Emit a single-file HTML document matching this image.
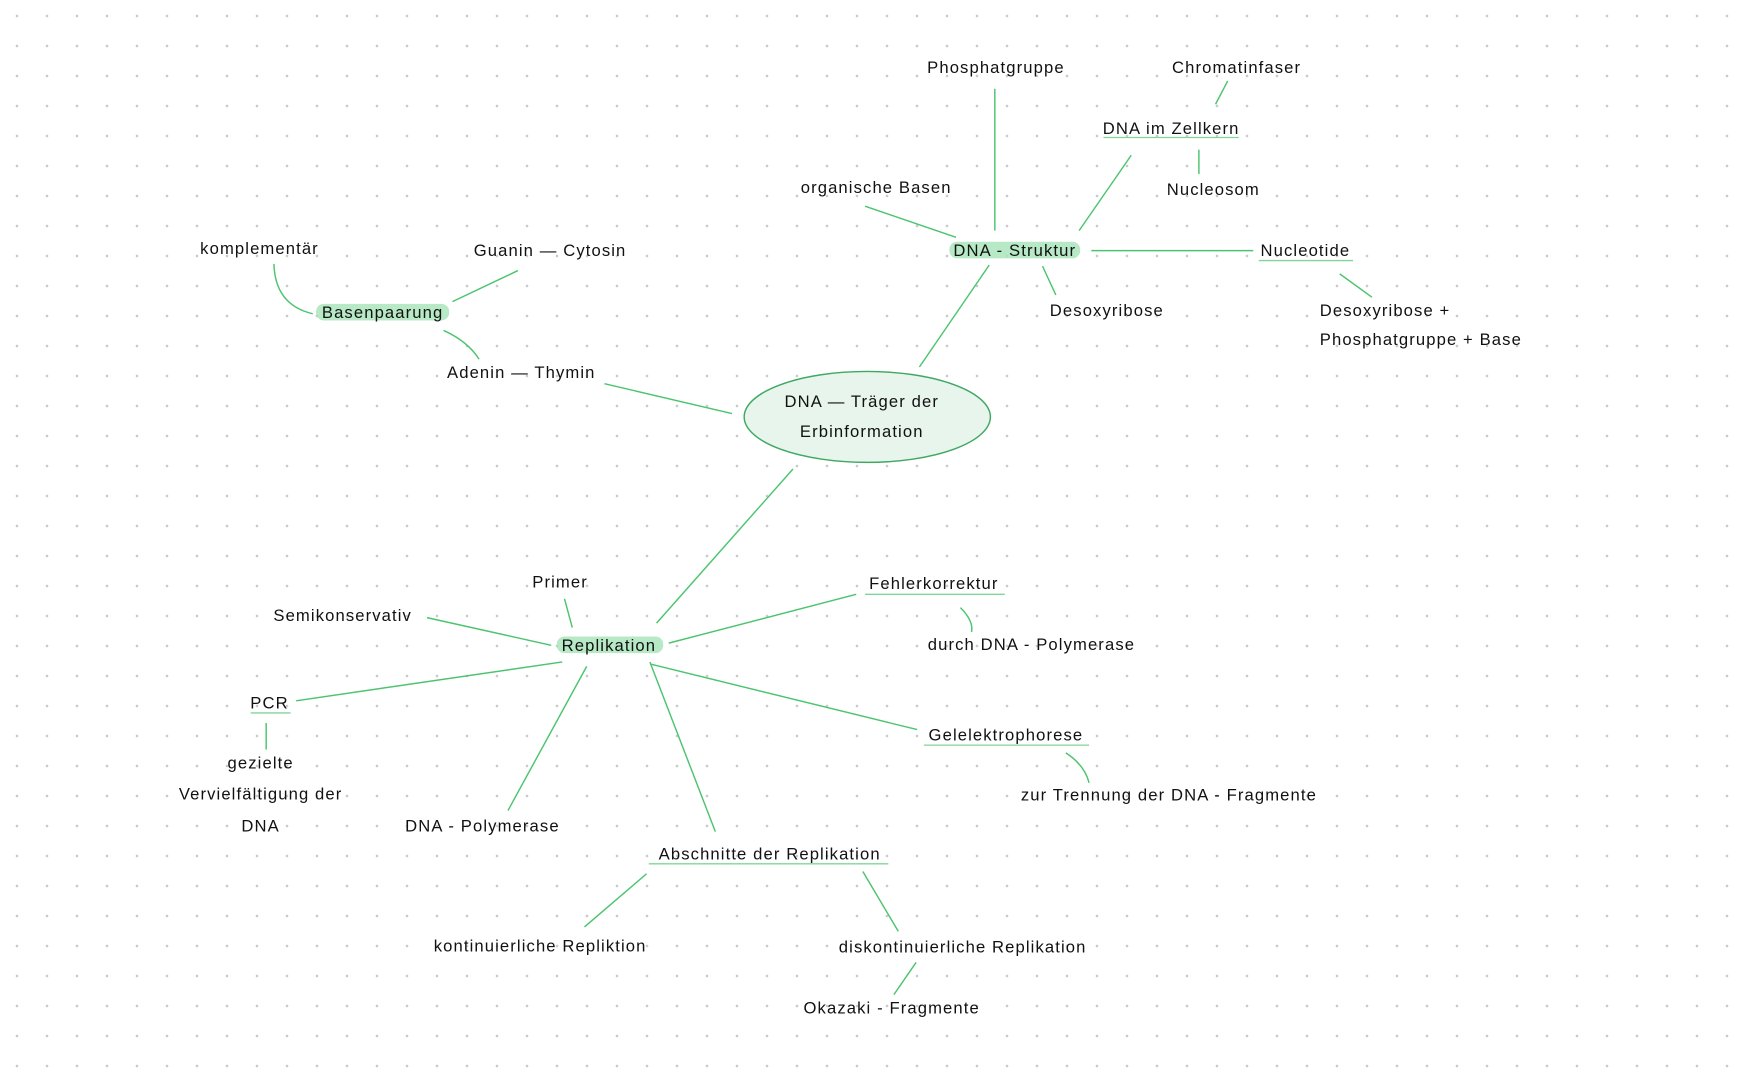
<!DOCTYPE html>
<html><head><meta charset="utf-8"><style>
html,body{margin:0;padding:0;background:#fff;}
body{width:1739px;height:1080px;overflow:hidden;background-image:radial-gradient(circle,#c8c8c8 1px,transparent 1.6px);background-size:30px 30px;background-position:2px 1px;}
svg{position:absolute;left:0;top:0;}
text{font-family:"Liberation Sans",sans-serif;font-size:15px;fill:#111;text-anchor:middle;letter-spacing:1px;}
.l{stroke:#4cc46f;stroke-width:1.3;fill:none;}
.u{stroke:#7fd69a;stroke-width:1.2;}
.h{fill:#a6e3b8;opacity:.8;}
</style></head><body>
<svg width="1739" height="1080" viewBox="0 0 1568 974" preserveAspectRatio="none">
<g class="l">
<line x1="897" y1="80" x2="897" y2="208"/>
<line x1="1107" y1="73" x2="1096" y2="94"/>
<line x1="1020" y1="140" x2="973" y2="208"/>
<line x1="1081" y1="135" x2="1081" y2="157"/>
<line x1="780" y1="186" x2="862" y2="214"/>
<line x1="984" y1="226" x2="1130" y2="226"/>
<line x1="940" y1="240" x2="952" y2="266"/>
<line x1="1208" y1="247" x2="1237" y2="268"/>
<line x1="892" y1="239" x2="829" y2="331"/>
<path d="M247,238 Q248,275 282,283"/>
<line x1="408" y1="272" x2="467" y2="244"/>
<path d="M400,298 Q422,308 432,324"/>
<line x1="545" y1="346" x2="660" y2="373"/>
<line x1="715" y1="423" x2="592" y2="562"/>
<line x1="509" y1="540" x2="516" y2="566"/>
<line x1="385" y1="557" x2="497" y2="582"/>
<line x1="603" y1="580" x2="772" y2="536"/>
<path d="M866,548 Q878,560 876,570"/>
<line x1="507" y1="597" x2="267" y2="632"/>
<line x1="240" y1="652" x2="240" y2="676"/>
<line x1="529" y1="601" x2="458" y2="731"/>
<line x1="586" y1="597" x2="645" y2="750"/>
<line x1="587" y1="599" x2="827" y2="658"/>
<path d="M961,679 Q978,690 982,706"/>
<line x1="583" y1="788" x2="527" y2="836"/>
<line x1="778" y1="786" x2="810" y2="840"/>
<line x1="826" y1="868" x2="806" y2="897"/>
</g>
<ellipse cx="782" cy="376" rx="111" ry="41" fill="#e8f5ec" stroke="#3fa862" stroke-width="1.3"/>
<rect class="h" x="856" y="218" width="118" height="15" rx="7"/>
<rect class="h" x="285" y="274" width="120" height="15" rx="7"/>
<rect class="h" x="502" y="574" width="96" height="15" rx="7"/>
<g class="u">
<line x1="995" y1="124" x2="1117" y2="124"/>
<line x1="1135" y1="235" x2="1220" y2="235"/>
<line x1="780" y1="536" x2="906" y2="536"/>
<line x1="226" y1="643" x2="262" y2="643"/>
<line x1="833" y1="672" x2="982" y2="672"/>
<line x1="585" y1="779" x2="801" y2="779"/>
</g>
<text x="898" y="66">Phosphatgruppe</text>
<text x="1115" y="66">Chromatinfaser</text>
<text x="1056" y="121">DNA im Zellkern</text>
<text x="1094" y="176">Nucleosom</text>
<text x="790" y="174">organische Basen</text>
<text x="915" y="231">DNA - Struktur</text>
<text x="1177" y="231">Nucleotide</text>
<text x="998" y="285">Desoxyribose</text>
<text x="1190" y="285" style="text-anchor:start">Desoxyribose +</text>
<text x="1190" y="311" style="text-anchor:start">Phosphatgruppe + Base</text>
<text x="234" y="229">komplementär</text>
<text x="496" y="231">Guanin — Cytosin</text>
<text x="345" y="287">Basenpaarung</text>
<text x="470" y="341">Adenin — Thymin</text>
<text x="777" y="367">DNA — Träger der</text>
<text x="777" y="394">Erbinformation</text>
<text x="505" y="530">Primer</text>
<text x="309" y="560">Semikonservativ</text>
<text x="549" y="587">Replikation</text>
<text x="842" y="531">Fehlerkorrektur</text>
<text x="930" y="586">durch DNA - Polymerase</text>
<text x="243" y="639">PCR</text>
<text x="235" y="693">gezielte</text>
<text x="235" y="721">Vervielfältigung der</text>
<text x="235" y="750">DNA</text>
<text x="435" y="750">DNA - Polymerase</text>
<text x="907" y="668">Gelelektrophorese</text>
<text x="1054" y="722">zur Trennung der DNA - Fragmente</text>
<text x="694" y="775">Abschnitte der Replikation</text>
<text x="487" y="858">kontinuierliche Repliktion</text>
<text x="868" y="859">diskontinuierliche Replikation</text>
<text x="804" y="914">Okazaki - Fragmente</text>
</svg>
</body></html>
